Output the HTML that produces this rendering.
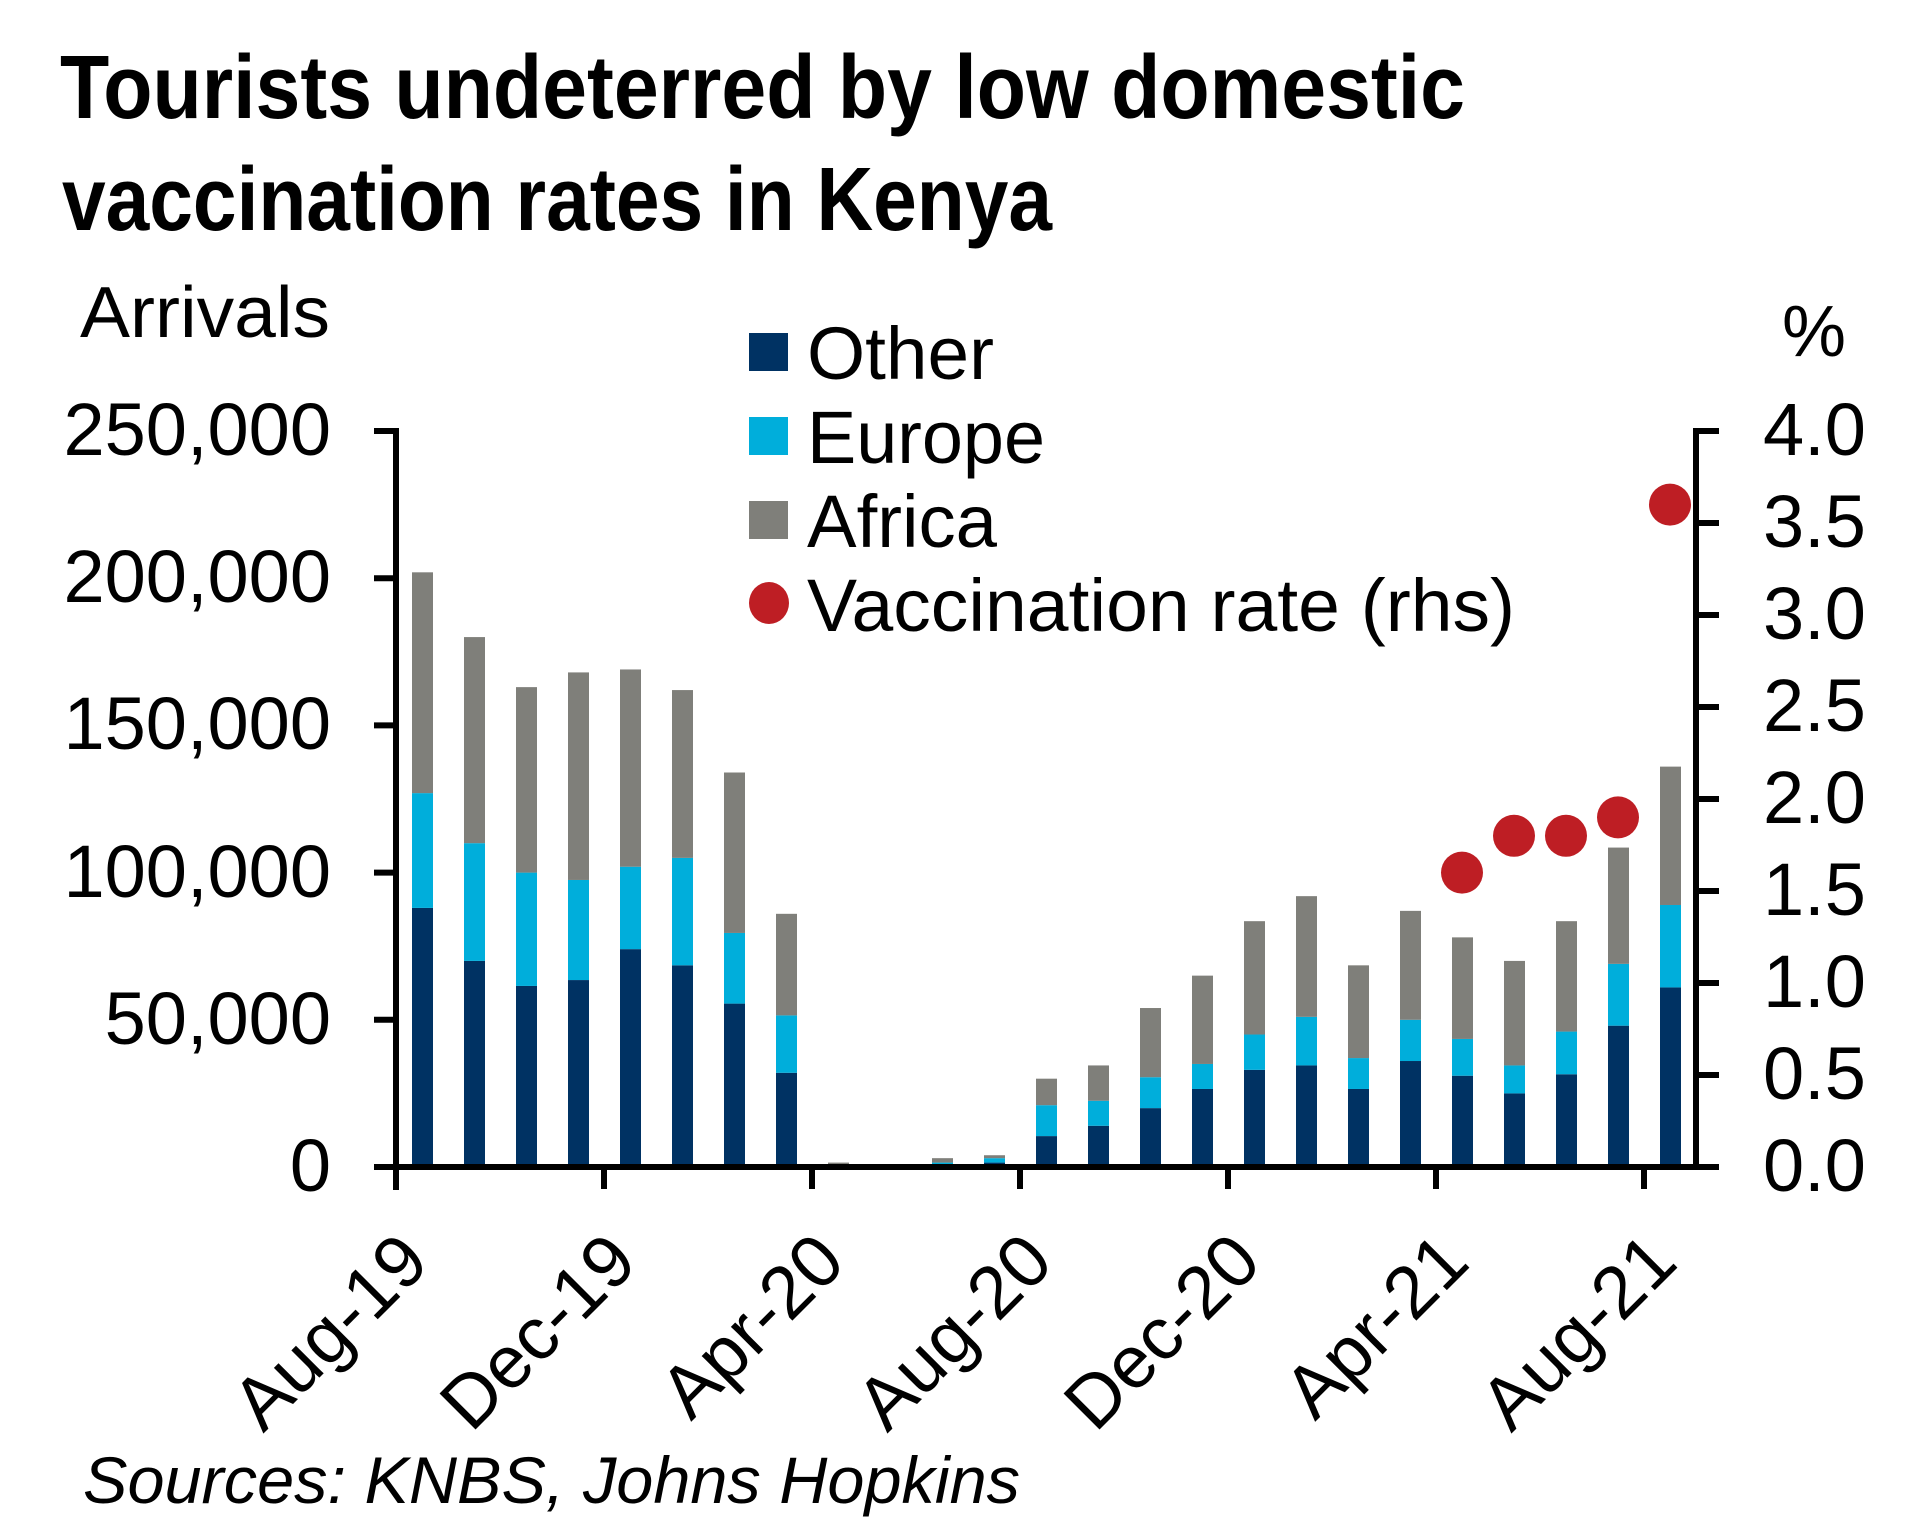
<!DOCTYPE html>
<html><head><meta charset="utf-8">
<style>
html,body{margin:0;padding:0;background:#fff;}
svg{display:block;}
text{font-family:"Liberation Sans",Arial,sans-serif;fill:#000;}
</style></head>
<body>
<svg id="c" width="1920" height="1537" viewBox="0 0 1920 1537" xmlns="http://www.w3.org/2000/svg">
<text x="60" y="118" font-size="90" font-weight="bold" textLength="1405" lengthAdjust="spacingAndGlyphs">Tourists undeterred by low domestic</text>
<text x="62" y="230" font-size="90" font-weight="bold" textLength="990" lengthAdjust="spacingAndGlyphs">vaccination rates in Kenya</text>
<text x="80" y="337" font-size="72" textLength="250" lengthAdjust="spacingAndGlyphs">Arrivals</text>
<text x="1782" y="356" font-size="72">%</text>
<g font-size="74" text-anchor="end">
<text x="331" y="455">250,000</text>
<text x="331" y="602">200,000</text>
<text x="331" y="749">150,000</text>
<text x="331" y="897">100,000</text>
<text x="331" y="1044">50,000</text>
<text x="331" y="1191">0</text>
</g>
<g font-size="74">
<text x="1763" y="455">4.0</text>
<text x="1763" y="547">3.5</text>
<text x="1763" y="639">3.0</text>
<text x="1763" y="731">2.5</text>
<text x="1763" y="823">2.0</text>
<text x="1763" y="915">1.5</text>
<text x="1763" y="1007">1.0</text>
<text x="1763" y="1099">0.5</text>
<text x="1763" y="1191">0.0</text>
</g>
<g id="bars"></g>
<g stroke="#000" stroke-width="6" fill="none">
<line x1="396" y1="428" x2="396" y2="1190"/>
<line x1="1696" y1="428" x2="1696" y2="1170"/>
<line x1="393" y1="1167" x2="1699" y2="1167"/>
<g id="ticks"></g>
</g>
<g id="dots" fill="#BE1E24"></g>
<rect x="749" y="333" width="39" height="38" fill="#003263"/>
<rect x="749" y="417" width="39" height="38" fill="#00AEDB"/>
<rect x="749" y="501" width="39" height="38" fill="#7F7F7A"/>
<ellipse cx="769" cy="603" rx="20" ry="21" fill="#BE1E24"/>
<g font-size="74">
<text x="807" y="379" textLength="187" lengthAdjust="spacingAndGlyphs">Other</text>
<text x="807" y="463" textLength="238" lengthAdjust="spacingAndGlyphs">Europe</text>
<text x="807" y="547" textLength="190" lengthAdjust="spacingAndGlyphs">Africa</text>
<text x="807" y="631" textLength="708" lengthAdjust="spacingAndGlyphs">Vaccination rate (rhs)</text>
</g>
<g font-size="74" text-anchor="end">
<text transform="translate(432,1265) rotate(-45)">Aug-19</text>
<text transform="translate(640,1265) rotate(-45)">Dec-19</text>
<text transform="translate(848,1265) rotate(-45)">Apr-20</text>
<text transform="translate(1056,1265) rotate(-45)">Aug-20</text>
<text transform="translate(1264,1265) rotate(-45)">Dec-20</text>
<text transform="translate(1472,1265) rotate(-45)">Apr-21</text>
<text transform="translate(1680,1265) rotate(-45)">Aug-21</text>
</g>
<text x="83" y="1503" font-size="66" font-style="italic" textLength="937" lengthAdjust="spacingAndGlyphs">Sources: KNBS, Johns Hopkins</text>
</svg>
<script>
var NS="http://www.w3.org/2000/svg";
var d=[[202,127,88],[180,110,70],[163,100,61.5],[168,97.5,63.5],[169,102,74],[162,105,68.5],[134,79.5,55.5],[86,51.5,32],[1.5,0.8,0.4],[0.5,0.3,0.2],[3,1.5,1],[4,3,1.5],[30,21,10.5],[34.5,22.5,14],[54,30.5,20],[65,35,26.5],[83.5,45,33],[92,51,34.5],[68.5,37,26.5],[87,50,36],[78,43.5,31],[70,34.5,25],[83.5,46,31.5],[108.5,69,48],[136,89,61]];
var k=2.944,b=1167,g=document.getElementById("bars");
function r(x,y0,y1,c){var e=document.createElementNS(NS,"rect");e.setAttribute("x",x);e.setAttribute("y",b-y1*k);e.setAttribute("width",21);e.setAttribute("height",Math.max(0,(y1-y0)*k));e.setAttribute("fill",c);g.appendChild(e);}
d.forEach(function(v,i){var x=396+52*i+16;r(x,0,v[2],"#003263");r(x,v[2],v[1],"#00AEDB");r(x,v[1],v[0],"#7F7F7A");});
var t=document.getElementById("ticks");
function l(x1,y1,x2,y2){var e=document.createElementNS(NS,"line");e.setAttribute("x1",x1);e.setAttribute("y1",y1);e.setAttribute("x2",x2);e.setAttribute("y2",y2);t.appendChild(e);}
for(var i=0;i<=5;i++){var y=1167-147.2*i;l(374,y,396,y);}
for(var i=0;i<=8;i++){var y=1167-92*i;l(1696,y,1719,y);}
for(var i=0;i<=6;i++){var x=396+208*i;l(x,1167,x,1189);}
var dt=document.getElementById("dots");
[[20,1.6],[21,1.8],[22,1.8],[23,1.9],[24,3.6]].forEach(function(p){var e=document.createElementNS(NS,"circle");e.setAttribute("cx",396+52*p[0]+26);e.setAttribute("cy",1167-184*p[1]);e.setAttribute("r",21);dt.appendChild(e);});
</script>
</body></html>
